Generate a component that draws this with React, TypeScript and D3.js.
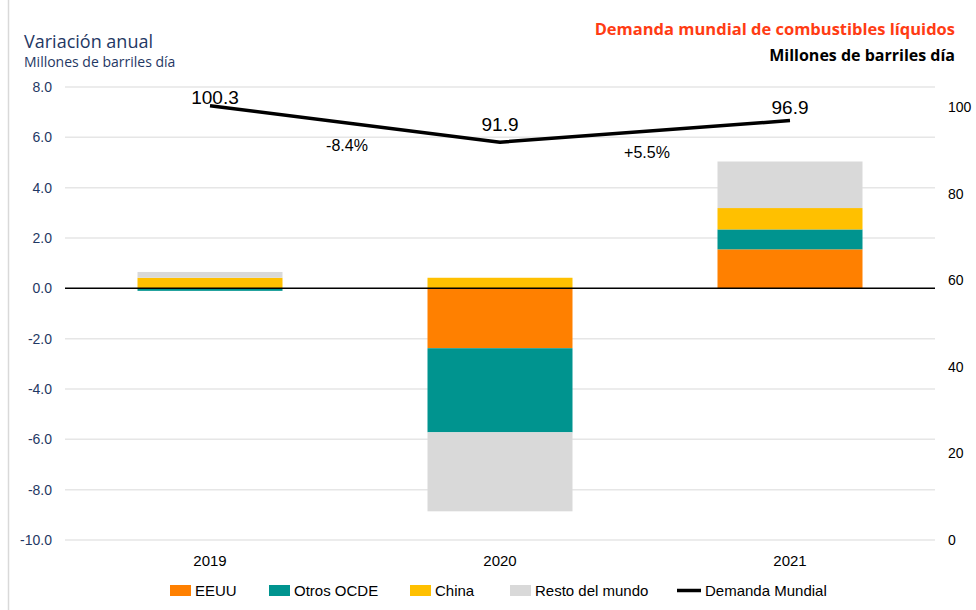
import React from "react";
import * as d3 from "d3";

const years = ["2019", "2020", "2021"];
const eeuu = [0, -2.38, 1.55];
const otrosOcde = [-0.1, -3.34, 0.79];
const china = [0.42, 0.42, 0.85];
const resto = [0.23, -3.14, 1.85];
const demanda = [100.3, 91.9, 96.9];
const changeLabels = ["-8.4%", "+5.5%"];
const leftTicks = [8, 6, 4, 2, 0, -2, -4, -6, -8, -10];
const rightTicks = [0, 20, 40, 60, 80, 100];

const seriesNames = ["EEUU", "Otros OCDE", "China", "Resto del mundo"];
const seriesColors = ["#FF8000", "#00948F", "#FFC000", "#D9D9D9"];

const W = 976;
const H = 610;
const plotLeft = 65;
const plotRight = 935;
const plotTop = 87;
const plotBottom = 540;

export default function App() {
  const x = d3.scaleBand<string>().domain(years).range([plotLeft, plotRight]).paddingInner(0.5).paddingOuter(0.25);
  const y = d3.scaleLinear().domain([-10, 8]).range([plotBottom, plotTop]);
  const y2 = d3.scaleLinear().domain([0, 104.65]).range([plotBottom, plotTop]);

  const rows = years.map((yr, i) => ({
    year: yr,
    "EEUU": eeuu[i],
    "Otros OCDE": otrosOcde[i],
    "China": china[i],
    "Resto del mundo": resto[i],
  }));
  const stack = d3.stack<any>().keys(seriesNames).offset(d3.stackOffsetDiverging);
  const stacked = stack(rows);

  const line = d3
    .line<number>()
    .x((_, i) => (x(years[i]) as number) + x.bandwidth() / 2)
    .y((d) => y2(d));

  const font = "'Liberation Sans', Arial, sans-serif";
  const cx = (i: number) => (x(years[i]) as number) + x.bandwidth() / 2;
  const valueLabelOffsets = [-2, -11, -7];
  const changeLabelDx = [-8, 2];
  const changeLabelY = [151, 158];

  const legendItems = [
    { name: "EEUU", color: seriesColors[0], sx: 170, type: "rect" },
    { name: "Otros OCDE", color: seriesColors[1], sx: 269, type: "rect" },
    { name: "China", color: seriesColors[2], sx: 410, type: "rect" },
    { name: "Resto del mundo", color: seriesColors[3], sx: 510, type: "rect" },
    { name: "Demanda Mundial", color: "#000", sx: 677, type: "line" },
  ];

  return (
    <svg width={W} height={H} style={{ position: "absolute", left: 0, top: 0, background: "#fff" }}>
      <rect x={0} y={0} width={W} height={H} fill="#fff" />
      <line x1={8.5} x2={8.5} y1={0} y2={H} stroke="#D9D9D9" strokeWidth={1.5} />

      {/* titles */}
      <text x={24} y={48} fontFamily="'Open Sans', sans-serif" fontSize={18} fill="#1F3864">Variación anual</text>
      <text x={24} y={67} fontFamily="'Open Sans', sans-serif" fontSize={14} fill="#1F3864">Millones de barriles día</text>
      <text x={955} y={35} textAnchor="end" fontFamily="'Open Sans', sans-serif" fontWeight="bold" fontSize={16.5} fill="#FF3C14">Demanda mundial de combustibles líquidos</text>
      <text x={955} y={61} textAnchor="end" fontFamily="'Open Sans', sans-serif" fontWeight="bold" fontSize={16} fill="#000">Millones de barriles día</text>

      {/* gridlines */}
      {leftTicks.filter((t) => t !== 0).map((t) => (
        <line key={t} x1={plotLeft} x2={plotRight} y1={y(t)} y2={y(t)} stroke="#E6E6E6" strokeWidth={1.5} />
      ))}

      {/* bars */}
      {stacked.map((s, si) =>
        s.map((d, i) => {
          const y0 = y(Math.max(d[0], d[1]));
          const y1 = y(Math.min(d[0], d[1]));
          if (y1 - y0 <= 0) return null;
          return (
            <rect key={`${si}-${i}`} x={x(years[i])} y={y0} width={x.bandwidth()} height={y1 - y0} fill={seriesColors[si]} />
          );
        })
      )}

      {/* zero line */}
      <line x1={plotLeft} x2={plotRight} y1={y(0)} y2={y(0)} stroke="#000" strokeWidth={1.5} />

      {/* left axis */}
      {leftTicks.map((t) => (
        <text key={t} x={52} y={y(t)} dy="0.35em" textAnchor="end" fontFamily={font} fontSize={14} fill="#1F3864">
          {t.toFixed(1)}
        </text>
      ))}

      {/* right axis */}
      {rightTicks.map((t) => (
        <text key={t} x={948} y={y2(t)} dy="0.35em" textAnchor="start" fontFamily={font} fontSize={14} fill="#000">
          {t}
        </text>
      ))}

      {/* x labels */}
      {years.map((yr, i) => (
        <text key={yr} x={cx(i)} y={566} textAnchor="middle" fontFamily={font} fontSize={15} fill="#000">{yr}</text>
      ))}

      {/* line */}
      <path d={line(demanda) || ""} fill="none" stroke="#000" strokeWidth={3.5} strokeLinejoin="round" />
      {demanda.map((v, i) => (
        <text key={i} x={cx(i) + (i === 0 ? 5 : 0)} y={y2(v) + valueLabelOffsets[i]} textAnchor="middle" fontFamily={font} fontSize={19} fill="#000">
          {v.toFixed(1)}
        </text>
      ))}
      {changeLabels.map((lab, i) => (
        <text key={lab} x={(cx(i) + cx(i + 1)) / 2 + changeLabelDx[i]} y={changeLabelY[i]} textAnchor="middle" fontFamily={font} fontSize={16} fill="#000">
          {lab}
        </text>
      ))}

      {/* legend */}
      {legendItems.map((it) => (
        <g key={it.name}>
          {it.type === "rect" ? (
            <rect x={it.sx} y={585} width={21} height={11} fill={it.color} />
          ) : (
            <line x1={it.sx} x2={it.sx + 24} y1={590.5} y2={590.5} stroke="#000" strokeWidth={3.5} />
          )}
          <text x={it.sx + (it.type === "rect" ? 25 : 28)} y={596} fontFamily={font} fontSize={15} fill="#000">
            {it.name}
          </text>
        </g>
      ))}
    </svg>
  );
}
